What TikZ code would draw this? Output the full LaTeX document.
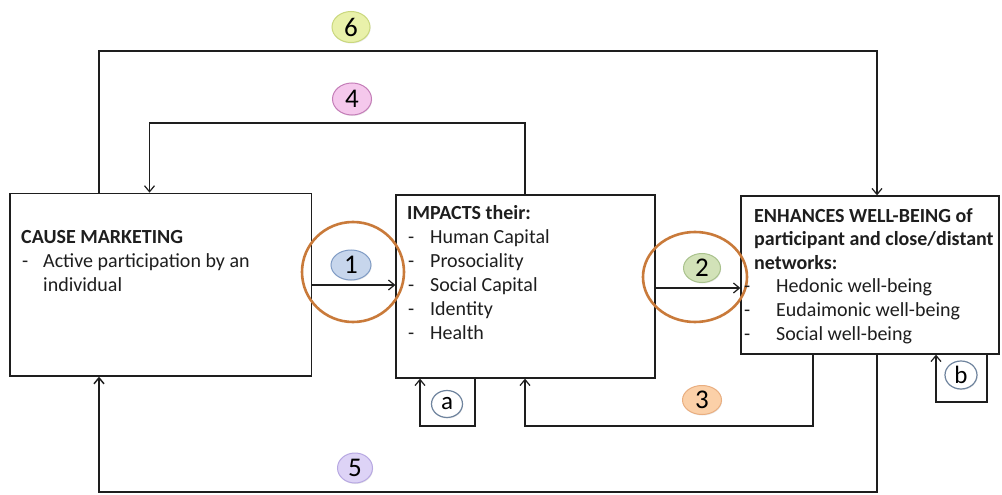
\documentclass[tikz,border=0pt]{standalone}
\usepackage{fontspec}
\setmainfont{Carlito}
\usetikzlibrary{arrows.meta,shapes.geometric,shadows}

\definecolor{ink}{HTML}{1E1E1E}
\definecolor{ringorange}{HTML}{C97A3A}
\definecolor{bOneFill}{HTML}{C7D6EC}\definecolor{bOneLine}{HTML}{7F9BC4}
\definecolor{bTwoFill}{HTML}{D2E2B8}\definecolor{bTwoLine}{HTML}{A9C28C}
\definecolor{bThreeFill}{HTML}{FBD0A8}\definecolor{bThreeLine}{HTML}{E9AE80}
\definecolor{bFourFill}{HTML}{F5C8EC}\definecolor{bFourLine}{HTML}{C47DB8}
\definecolor{bFiveFill}{HTML}{DDD3F6}\definecolor{bFiveLine}{HTML}{B7A8E2}
\definecolor{bSixFill}{HTML}{E9F1AA}\definecolor{bSixLine}{HTML}{CAD87E}
\definecolor{bLetterLine}{HTML}{6F849E}

\begin{document}
\begin{tikzpicture}[x=1pt,y=-1pt,
  box/.style={draw=ink, line width=1.3pt, rectangle, inner sep=0pt, fill=white},
  conn/.style={draw=ink, line width=1.2pt, line join=miter},
  arr/.style={conn, -{Straight Barb[length=6pt,width=10pt]}},
  ring/.style={draw=ringorange, line width=2.6pt, ellipse, inner sep=0pt},
  badge/.style={ellipse, inner sep=0pt, line width=1pt, text=black,
    font=\fontsize{27}{27}\selectfont,
    drop shadow={opacity=0.18, shadow xshift=0.6pt, shadow yshift=-1pt}},
  letterbadge/.style={badge, fill=white, draw=bLetterLine, line width=1.2pt,
    font=\fontsize{25}{25}\selectfont},
  txt/.style={anchor=base west, inner sep=0pt, text=ink, font=\fontsize{20}{24}\selectfont},
  head/.style={txt, font=\fontsize{20}{24}\selectfont\bfseries},
]
\fill[white] (0,0) rectangle (1002,495);
\useasboundingbox (0,0) rectangle (1002,495);

% the three boxes
\node[box, minimum width=301.5pt, minimum height=182.7pt] (cm) at (160.75,284.65) {};
\node[box, minimum width=259pt, minimum height=183pt] (imp) at (525.5,286.5) {};
\node[box, minimum width=258pt, minimum height=158pt] (wb) at (870,275) {};

% orange highlight rings
\node[ring, minimum width=102pt, minimum height=100pt] (ringone) at (353,272) {};
\node[ring, minimum width=104pt, minimum height=90pt] (ringtwo) at (695,277) {};

% route corners
\coordinate (y1) at (0,285);
\coordinate (y2) at (0,288);
\coordinate (c6a) at (99,51);   \coordinate (c6b) at (877,51);
\coordinate (c4a) at (525,123); \coordinate (c4b) at (149.5,123);
\coordinate (c3a) at (813,426); \coordinate (c3b) at (525,426);
\coordinate (ca1) at (475,426); \coordinate (ca2) at (420,426);
\coordinate (c5a) at (877,492); \coordinate (c5b) at (99,492);
\coordinate (cb1) at (987,402); \coordinate (cb2) at (936,402);

% connectors
\draw[arr] (cm.east |- y1) -- (imp.west |- y1);
\draw[arr] (imp.east |- y2) -- (wb.west |- y2);
\draw[arr] (cm.north -| c6a) -- (c6a) -- (c6b) -- (wb.north -| c6b);
\draw[arr] (imp.north -| c4a) -- (c4a) -- (c4b) -- (cm.north -| c4b);
\draw[arr] (wb.south -| c3a) -- (c3a) -- (c3b) -- (imp.south -| c3b);
\draw[arr] (imp.south -| ca1) -- (ca1) -- (ca2) -- (imp.south -| ca2);
\draw[arr, line width=1.5pt] (wb.south -| c5a) -- (c5a) -- (c5b) -- (cm.south -| c5b);
\draw[arr] (wb.south -| cb1) -- (cb1) -- (cb2) -- (wb.south -| cb2);

% numbered badges
\node[badge, fill=bSixFill, draw=bSixLine, minimum width=38pt, minimum height=31pt] (n6) at (351,27) {6};
\node[badge, fill=bFourFill, draw=bFourLine, minimum width=39pt, minimum height=32pt] (n4) at (352,99) {4};
\node[badge, fill=bOneFill, draw=bOneLine, minimum width=40pt, minimum height=30pt] (n1) at (351,265) {1};
\node[badge, fill=bTwoFill, draw=bTwoLine, minimum width=37pt, minimum height=29pt] (n2) at (702,268) {2};
\node[badge, fill=bThreeFill, draw=bThreeLine, minimum width=39pt, minimum height=29pt] (n3) at (702,400) {3};
\node[badge, fill=bFiveFill, draw=bFiveLine, minimum width=35pt, minimum height=30pt] (n5) at (355,468) {5};
\node[letterbadge, minimum width=31pt, minimum height=27pt] (la) at (447,404) {a};
\node[letterbadge, minimum width=32pt, minimum height=28pt] (lb) at (961,375) {b};

% box texts
\node[head] (cmh) at (21,243) {CAUSE MARKETING};
\node[txt] (cmd1) at (22,267) {-};
\node[txt] (cm1) at (43,267) {Active participation by an};
\node[txt] (cm2) at (43,291) {individual};

\node[head] (imph) at (407,219) {IMPACTS their:};
\foreach \t [count=\i] in {Human Capital, Prosociality, Social Capital, Identity, Health} {
  \node[txt] (impd\i) at (408,219+24*\i) {-};
  \node[txt] (impi\i) at (430,219+24*\i) {\t};
}

\node[head] (wbh1) at (754,222) {ENHANCES WELL-BEING of};
\node[head] (wbh2) at (754,245.6) {participant and close/distant};
\node[head] (wbh3) at (754,269.2) {networks:};
\foreach \t [count=\i] in {Hedonic well-being, Eudaimonic well-being, Social well-being} {
  \node[txt] (wbd\i) at (744,269.2+23.6*\i) {-};
  \node[txt] (wbi\i) at (776,269.2+23.6*\i) {\t};
}
\end{tikzpicture}
\end{document}
